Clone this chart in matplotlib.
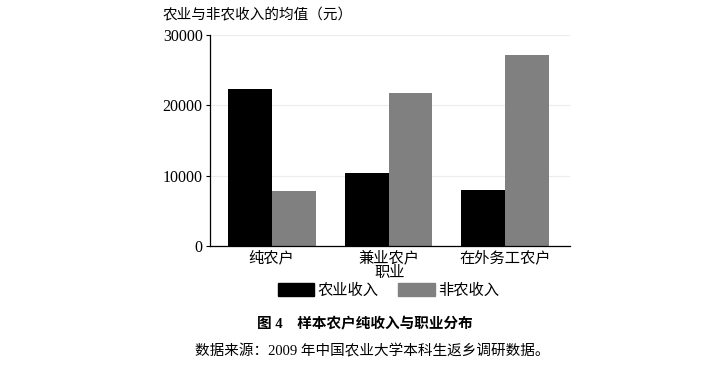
import numpy as np
import matplotlib
matplotlib.use("Agg")
import matplotlib.pyplot as plt
from matplotlib.patches import Patch

plt.rcParams['font.family'] = ['Liberation Serif', 'Noto Sans CJK SC']

categories = ['纯农户', '兼业农户', '在外务工农户']
farm_income = [22300, 10400, 7900]
nonfarm_income = [7800, 21800, 27200]
series_names = ['农业收入', '非农收入']
y_ticks = [0, 10000, 20000, 30000]

fig = plt.figure(figsize=(7.23, 3.65), dpi=100)
ax = fig.add_axes([0.29, 0.326, 0.498, 0.578])

x = np.arange(len(categories))
w = 0.376
ax.bar(x - w / 2, farm_income, w, color='black', zorder=2)
ax.bar(x + w / 2, nonfarm_income, w, color='#808080', zorder=2)

ax.set_xlim(-0.53, 2.55)
ax.set_ylim(0, 30000)
ax.set_yticks(y_ticks)
ax.set_yticklabels([str(t) for t in y_ticks], fontsize=11.5)
ax.yaxis.grid(True, color='#ececec', linewidth=0.8, zorder=0)
ax.set_xticks(x)
ax.set_xticklabels(categories, fontsize=11)
ax.tick_params(axis='x', length=0, pad=3)
ax.tick_params(axis='y', length=3, width=0.8, pad=2)
for s in ['top', 'right']:
    ax.spines[s].set_visible(False)
for s in ['left', 'bottom']:
    ax.spines[s].set_linewidth(0.9)

ax.set_xlabel('职业', fontsize=11, labelpad=1)
fig.text(0.225, 0.958, '农业与非农收入的均值（元）', fontsize=10.5, ha='left', va='center')

handles = [Patch(color='black'), Patch(color='#808080')]
fig.legend(handles, series_names, loc='center', bbox_to_anchor=(0.537, 0.205),
           ncol=2, frameon=False, fontsize=11, handlelength=2.4, handleheight=0.9,
           handletextpad=0.2, columnspacing=1.3)

fig.text(0.505, 0.11, '图 4　样本农户纯收入与职业分布', fontsize=10.5,
         fontweight='bold', ha='center', va='center')
fig.text(0.27, 0.038, '数据来源：2009 年中国农业大学本科生返乡调研数据。', fontsize=10.5,
         ha='left', va='center')

fig.savefig('out.png', dpi=100)
